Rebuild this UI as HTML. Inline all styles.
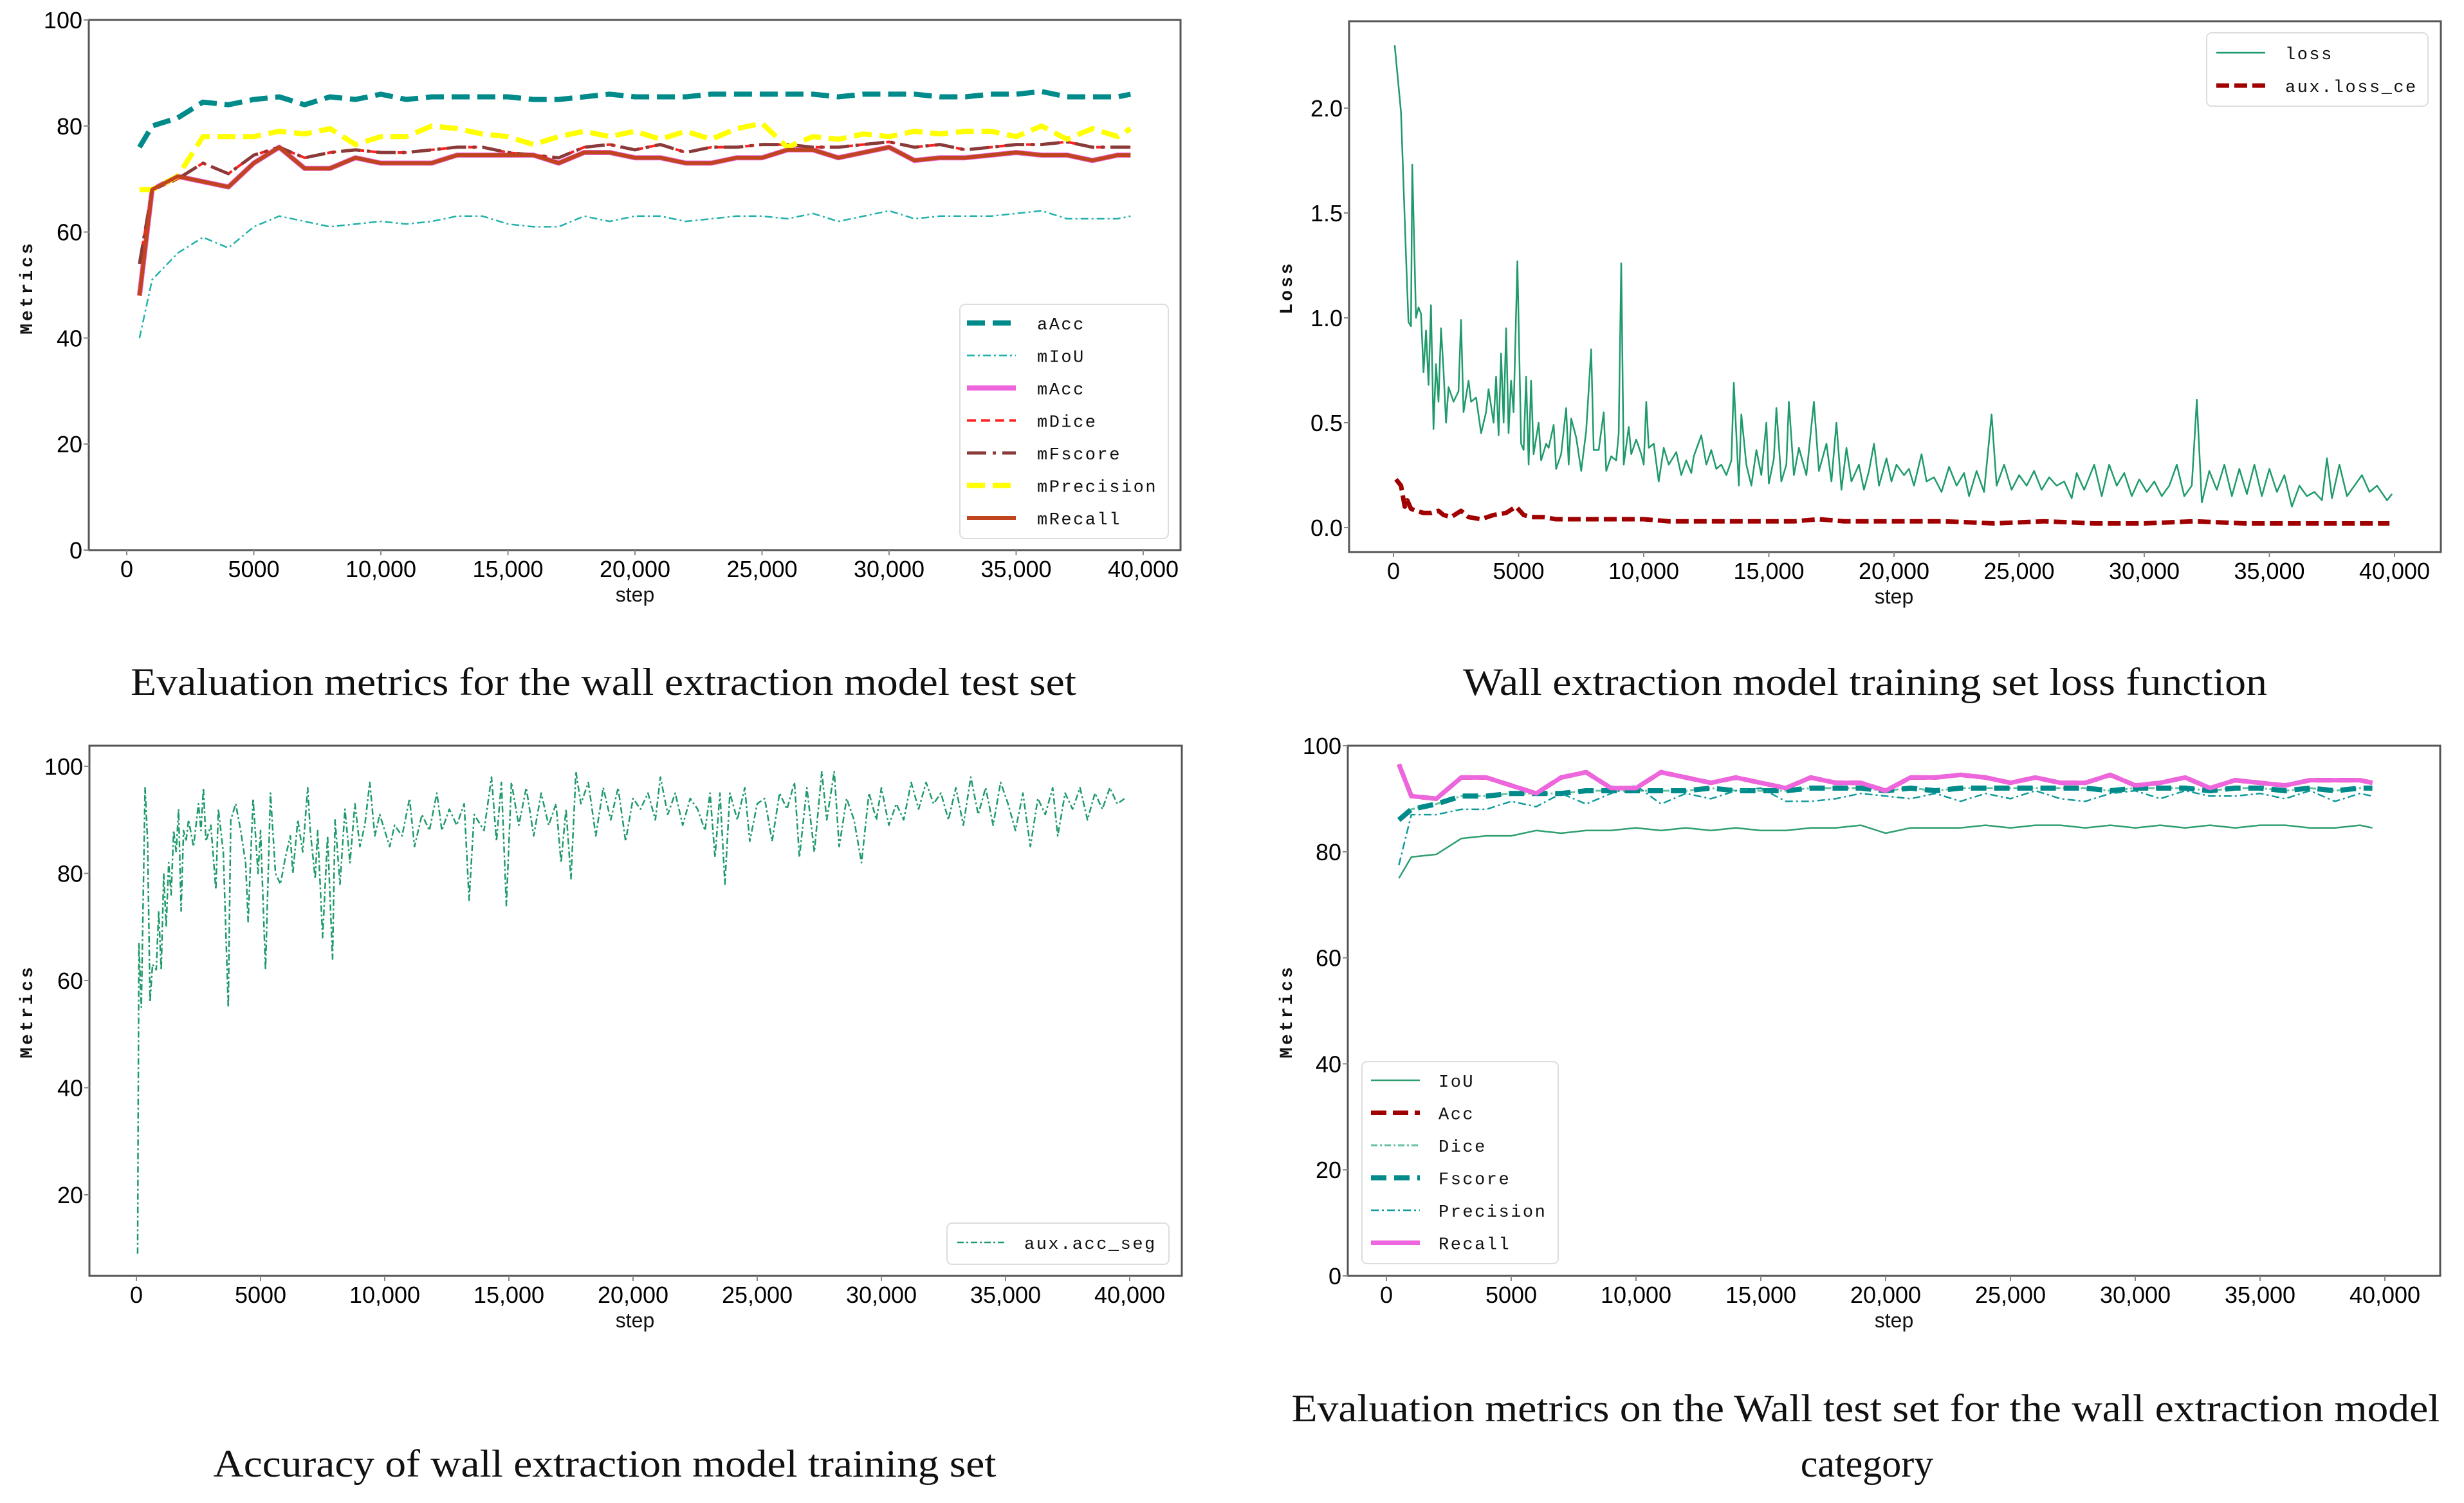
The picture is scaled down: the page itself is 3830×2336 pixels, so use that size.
<!DOCTYPE html>
<html><head><meta charset="utf-8">
<style>
html,body{margin:0;padding:0;background:#fff;}
svg{display:block;}
.tick{font-family:"Liberation Sans",sans-serif;font-size:36px;fill:#000;}
.leg{font-family:"Liberation Mono",monospace;font-size:27px;letter-spacing:2.5px;fill:#111;}
.ytitle{font-family:"Liberation Mono",monospace;font-size:28px;font-weight:bold;letter-spacing:4px;fill:#111;}
.xtitle{font-family:"Liberation Sans",sans-serif;font-size:32px;fill:#111;}
.cap{font-family:"Liberation Serif",serif;font-size:60px;fill:#111;}
</style></head>
<body>
<svg id="root" width="3830" height="2336" viewBox="0 0 3830 2336" xmlns="http://www.w3.org/2000/svg">
<rect width="3830" height="2336" fill="#fff"/>
<text class="cap" x="938" y="1080" text-anchor="middle" textLength="1470" lengthAdjust="spacingAndGlyphs">Evaluation metrics for the wall extraction model test set</text>
<text class="cap" x="2899" y="1080" text-anchor="middle" textLength="1250" lengthAdjust="spacingAndGlyphs">Wall extraction model training set loss function</text>
<text class="cap" x="940" y="2295" text-anchor="middle" textLength="1217" lengthAdjust="spacingAndGlyphs">Accuracy of wall extraction model training set</text>
<text class="cap" x="2900" y="2209" text-anchor="middle" textLength="1785" lengthAdjust="spacingAndGlyphs">Evaluation metrics on the Wall test set for the wall extraction model</text>
<text class="cap" x="2902" y="2295" text-anchor="middle">category</text>
</svg>
<script>
// ---------- Chart 1 data ----------
const c1Steps=[500,1000,2000,3000,4000,5000,6000,7000,8000,9000,10000,11000,12000,13000,14000,15000,16000,17000,18000,19000,20000,21000,22000,23000,24000,25000,26000,27000,28000,29000,30000,31000,32000,33000,34000,35000,36000,37000,38000,39000,39500];
const c1aAcc=[76,80,81.5,84.5,84,85,85.5,84,85.5,85,86,85,85.5,85.5,85.5,85.5,85,85,85.5,86,85.5,85.5,85.5,86,86,86,86,86,85.5,86,86,86,85.5,85.5,86,86,86.5,85.5,85.5,85.5,86];
const c1mIoU=[40,51,56,59,57,61,63,62,61,61.5,62,61.5,62,63,63,61.5,61,61,63,62,63,63,62,62.5,63,63,62.5,63.5,62,63,64,62.5,63,63,63,63.5,64,62.5,62.5,62.5,63];
const c1mRecall=[48,68,70.5,69.5,68.5,73,76,72,72,74,73,73,73,74.5,74.5,74.5,74.5,73,75,75,74,74,73,73,74,74,75.5,75.5,74,75,76,73.5,74,74,74.5,75,74.5,74.5,73.5,74.5,74.5];
const c1mFscore=[54,68,70,73,71,74.5,76,74,75,75.5,75,75,75.5,76,76,75,74.5,74,76,76.5,75.5,76.5,75,76,76,76.5,76.5,76,76,76.5,77,76,76.5,75.5,76,76.5,76.5,77,76,76,76];
const c1mPrecision=[68,68,70.5,78,78,78,79,78.5,79.5,76.5,78,78,80,79.5,78.5,78,76.5,78,79,78,79,77.5,79,77.5,79.5,80.5,76,78,77.5,78.5,78,79,78.5,79,79,78,80,77.5,79.5,78,79.5];
// ---------- Chart 2 data ----------
const lossSteps=[50,300,500,600,700,750,900,1000,1100,1200,1300,1400,1500,1600,1700,1800,1900,2000,2100,2200,2400,2600,2700,2800,3000,3100,3300,3500,3700,3800,4000,4100,4200,4300,4400,4500,4600,4700,4800,4950,5100,5200,5300,5400,5500,5600,5800,5900,6100,6200,6400,6500,6700,6900,7000,7100,7300,7500,7700,7900,8000,8200,8400,8500,8700,8900,9000,9100,9200,9400,9500,9700,9900,10000,10100,10200,10400,10600,10800,11000,11300,11500,11700,11900,12000,12300,12500,12700,12900,13100,13300,13500,13600,13800,13900,14100,14300,14500,14700,14900,15000,15200,15300,15500,15700,15800,16000,16200,16500,16800,17000,17300,17500,17700,17900,18100,18300,18600,18800,19000,19200,19400,19700,19900,20100,20400,20600,20800,21100,21300,21600,21900,22200,22500,22800,23000,23300,23600,23900,24100,24400,24700,25000,25300,25600,25900,26200,26500,26800,27100,27300,27600,28000,28300,28600,28900,29200,29500,29800,30100,30400,30700,31000,31300,31600,31900,32100,32300,32600,32900,33200,33500,33800,34100,34400,34700,35000,35300,35600,35900,36200,36500,36800,37100,37300,37500,37800,38100,38400,38700,39000,39300,39700,39900];
const lossVals=[2.3,1.98,1.3,0.98,0.96,1.73,1.0,1.05,1.02,0.74,0.94,0.68,1.06,0.47,0.78,0.6,0.95,0.75,0.5,0.67,0.6,0.65,0.99,0.55,0.7,0.6,0.62,0.45,0.55,0.66,0.5,0.72,0.44,0.83,0.5,0.95,0.45,0.7,0.55,1.27,0.4,0.37,0.72,0.3,0.7,0.35,0.5,0.32,0.4,0.38,0.49,0.28,0.35,0.57,0.3,0.52,0.43,0.27,0.46,0.85,0.37,0.37,0.55,0.27,0.34,0.32,0.45,1.26,0.3,0.48,0.35,0.42,0.35,0.3,0.6,0.38,0.4,0.22,0.38,0.3,0.36,0.25,0.32,0.26,0.34,0.44,0.3,0.37,0.28,0.3,0.25,0.32,0.69,0.2,0.54,0.3,0.2,0.37,0.25,0.5,0.21,0.33,0.57,0.22,0.3,0.6,0.25,0.38,0.25,0.6,0.27,0.4,0.22,0.5,0.18,0.38,0.22,0.3,0.18,0.27,0.4,0.2,0.33,0.22,0.3,0.25,0.28,0.2,0.35,0.22,0.24,0.17,0.29,0.2,0.26,0.15,0.27,0.17,0.54,0.2,0.3,0.18,0.25,0.2,0.27,0.18,0.24,0.2,0.22,0.14,0.26,0.18,0.3,0.15,0.3,0.2,0.26,0.15,0.23,0.17,0.22,0.15,0.2,0.3,0.15,0.2,0.61,0.12,0.27,0.18,0.3,0.15,0.28,0.16,0.3,0.15,0.28,0.17,0.25,0.1,0.2,0.15,0.17,0.13,0.33,0.14,0.3,0.15,0.2,0.25,0.17,0.2,0.13,0.16];
const auxSteps=[100,300,450,550,700,900,1200,1500,1800,2000,2300,2700,3000,3500,4000,4500,4900,5200,5500,6000,6500,7000,7500,8000,9000,10000,11000,12000,13000,14000,15000,16000,17000,18000,19000,20000,22000,24000,26000,28000,30000,32000,34000,36000,38000,39800];
const auxVals=[0.23,0.2,0.1,0.13,0.09,0.08,0.07,0.07,0.08,0.06,0.05,0.08,0.05,0.04,0.06,0.07,0.1,0.06,0.05,0.05,0.04,0.04,0.04,0.04,0.04,0.04,0.03,0.03,0.03,0.03,0.03,0.03,0.04,0.03,0.03,0.03,0.03,0.02,0.03,0.02,0.02,0.03,0.02,0.02,0.02,0.02];
// ---------- Chart 3 data ----------
const accSteps=[50,100,200,350,450,550,650,800,900,1000,1100,1200,1300,1400,1500,1600,1700,1800,1900,2000,2100,2300,2500,2600,2700,2800,3000,3200,3300,3500,3700,3800,4000,4200,4400,4500,4700,4900,5000,5200,5400,5600,5800,6000,6200,6300,6500,6700,6900,7000,7200,7300,7500,7700,7900,8000,8200,8400,8600,8800,9000,9200,9400,9600,9800,10000,10200,10400,10700,11000,11200,11500,11800,12100,12300,12600,12900,13200,13400,13600,14000,14300,14500,14700,14900,15100,15400,15700,16000,16300,16600,16900,17100,17300,17500,17700,17900,18200,18500,18800,19100,19400,19700,20000,20300,20600,20900,21100,21400,21700,22000,22300,22600,22900,23100,23300,23500,23700,23900,24200,24500,24700,25000,25300,25600,25900,26200,26500,26700,27000,27300,27600,27800,28100,28300,28600,28900,29200,29500,29800,30000,30300,30600,30900,31200,31500,31800,32100,32400,32700,33000,33300,33600,33900,34200,34500,34800,35100,35400,35700,36000,36300,36600,36900,37100,37400,37700,38000,38300,38600,38900,39200,39500,39800];
const accVals=[9,67,55,96,86,56,63,62,73,62,80,70,82,76,88,84,92,73,88,86,90,85,93,88,96,86,89,77,92,84,55,90,93,88,82,71,94,80,88,62,95,80,78,83,87,80,90,84,96,88,79,88,68,87,64,90,78,92,82,93,85,89,97,87,91,88,85,89,87,94,85,91,88,95,88,92,89,93,75,91,88,98,86,97,74,97,89,96,87,95,89,93,82,92,79,99,93,97,87,96,90,96,86,94,92,95,90,98,91,95,89,94,92,88,95,83,95,78,95,90,96,86,93,94,86,95,92,97,83,96,84,99,90,99,85,94,90,82,95,90,96,89,93,90,97,92,97,93,95,90,96,89,98,91,96,89,97,93,88,95,85,94,91,96,87,95,92,96,90,95,92,96,93,94];
// ---------- Chart 4 data ----------
const c4Steps=[500,1000,2000,3000,4000,5000,6000,7000,8000,9000,10000,11000,12000,13000,14000,15000,16000,17000,18000,19000,20000,21000,22000,23000,24000,25000,26000,27000,28000,29000,30000,31000,32000,33000,34000,35000,36000,37000,38000,39000,39500];
const c4Recall=[96.5,90.5,90,94,94,92.5,91,94,95,92,92,95,94,93,94,93,92,94,93,93,91.5,94,94,94.5,94,93,94,93,93,94.5,92.5,93,94,92,93.5,93,92.5,93.5,93.5,93.5,93];
const c4Acc=[96.5,90.5,90,94,94,92.5,91,94,95,92,92,95,94,93,94,93,92,94,93,93,91.5,94,94,94.5,94,93,94,93,93,94.5,92.5,93,94,92,93.5,93,92.5,93.5,93.5,93.5,93];
const c4Fscore=[86,88,89,90.5,90.5,91,91,91,91.5,91.5,91.5,91.5,91.5,92,91.5,91.5,91.5,92,92,92,91.5,92,91.5,92,92,92,92,92,92,91.5,92,92,92,91.5,92,92,91.5,92,91.5,92,92];
const c4Dice=[86,88,89,90.5,90.5,91,91,91,91.5,91.5,91.5,91.5,91.5,92,91.5,91.5,91.5,92,92,92,91.5,92,91.5,92,92,92,92,92,92,91.5,92,92,92,91.5,92,92,91.5,92,91.5,92,92];
const c4Precision=[77.5,87,87,88,88,89.5,88.5,91,89,91,92.5,89,91,90,91.5,92,89.5,89.5,90,91,90.5,90,91,89.5,91,90,91.5,90,89.5,91,91.5,90,91.5,90.5,90.5,91,90,91.5,89.5,91,90.5];
const c4IoU=[75,79,79.5,82.5,83,83,84,83.5,84,84,84.5,84,84.5,84,84.5,84,84,84.5,84.5,85,83.5,84.5,84.5,84.5,85,84.5,85,85,84.5,85,84.5,85,84.5,85,84.5,85,85,84.5,84.5,85,84.5];
const xTickVals=[0,5000,10000,15000,20000,25000,30000,35000,40000];
const xTickLabels=["0","5000","10,000","15,000","20,000","25,000","30,000","35,000","40,000"];
const yTicksMetrics=[0,20,40,60,80,100];
const yTicksLoss=[0,0.5,1.0,1.5,2.0];
const yTicksLossLabels=["0.0","0.5","1.0","1.5","2.0"];
const yTicksAcc=[20,40,60,80,100];

const NS="http://www.w3.org/2000/svg";
const root=document.getElementById('root');
function el(tag,attrs,parent){const e=document.createElementNS(NS,tag);for(const k in attrs)e.setAttribute(k,attrs[k]);(parent||root).appendChild(e);return e;}

function chart(cfg){
  const g=el('g',{});
  
  
  const sx=v=>cfg.x0+(v-0)*(cfg.x40-cfg.x0)/40000;
  const sy=v=>cfg.yA+(v-cfg.vA)*(cfg.yB-cfg.yA)/(cfg.vB-cfg.vA);
  cfg.series.forEach(s=>{
    let d='';
    s.xs.forEach((x,i)=>{d+=(i?'L':'M')+sx(x).toFixed(1)+','+sy(s.ys[i]).toFixed(1);});
    const p=el('path',{d:d,fill:'none',stroke:s.color,'stroke-width':s.w,'stroke-dasharray':s.dash||'none','stroke-linejoin':'round'},g);
    
    
  });
  const fr=el('rect',{x:cfg.L,y:cfg.T,width:cfg.R-cfg.L,height:cfg.B-cfg.T,fill:'none',stroke:'#555','stroke-width':3},g);
  
  
  xTickVals.forEach((v,i)=>{
    const x=sx(v);
    el('line',{x1:x,x2:x,y1:cfg.B,y2:cfg.B+8,stroke:'#888','stroke-width':2},g);
    const t=el('text',{x:x,y:cfg.B+42,'text-anchor':'middle',class:'tick'},g);
    t.textContent=xTickLabels[i];
    
    
  });
  cfg.yTicks.forEach((v,i)=>{
    const y=sy(v);
    el('line',{x1:cfg.L-8,x2:cfg.L,y1:y,y2:y,stroke:'#888','stroke-width':2},g);
    const t=el('text',{x:cfg.L-10,y:y+13,'text-anchor':'end',class:'tick'},g);
    t.textContent=cfg.yLabels?cfg.yLabels[i]:String(v);
    
    
  });
  const xt=el('text',{x:cfg.xtX,y:cfg.B+80,'text-anchor':'middle',class:'xtitle'},g);
  xt.textContent='step';
  
  
  const yt=el('text',{x:0,y:0,'text-anchor':'middle',class:'ytitle',transform:`translate(${cfg.ytX},${cfg.ytY}) rotate(-90)`},g);
  yt.textContent=cfg.ytitle;
  
  
  const lg=el('g',{},g);
  
  
  const L=cfg.leg;
  el('rect',{x:L.x,y:L.y,width:L.w,height:L.h,rx:8,fill:'#fff','fill-opacity':0.85,stroke:'#ddd','stroke-width':2},lg);
  cfg.series.filter(s=>s.label).forEach((s,i)=>{
    const y=L.fy+i*L.dy;
    const ln=el('line',{x1:L.lx,x2:L.lx+76,y1:y,y2:y,stroke:s.color,'stroke-width':s.w,'stroke-dasharray':s.dash||'none'},lg);
    
    
    const t=el('text',{x:L.tx,y:y+10,class:'leg'},lg);
    t.textContent=s.label;
    
    
  });
}

chart({name:'test-metrics-chart',L:138,R:1835,T:31,B:855,x0:197,x40:1777,vA:0,yA:855,vB:100,yB:31,
  yTicks:yTicksMetrics,xtX:987,ytX:50,ytY:447,ytitle:'Metrics',
  leg:{x:1492,y:473,w:324,h:364,fy:502,dy:50.5,lx:1503,tx:1612},
  series:[
    {id:'aAcc',label:'aAcc',xs:c1Steps,ys:c1aAcc,color:'#008b8b',w:8,dash:'28,12'},
    {id:'mIoU',label:'mIoU',xs:c1Steps,ys:c1mIoU,color:'#20b2aa',w:2.5,dash:'12,5,3,5'},
    {id:'mAcc',label:'mAcc',xs:c1Steps,ys:c1mRecall,color:'#ee66dd',w:8},
    {id:'mDice',label:'mDice',xs:c1Steps,ys:c1mFscore,color:'#ff2020',w:4,dash:'14,8'},
    {id:'mFscore',label:'mFscore',xs:c1Steps,ys:c1mFscore,color:'#8b3a3a',w:5,dash:'30,10,5,10'},
    {id:'mPrecision',label:'mPrecision',xs:c1Steps,ys:c1mPrecision,color:'#ffff00',w:8,dash:'28,12'},
    {id:'mRecall',label:'mRecall',xs:c1Steps,ys:c1mRecall,color:'#c0441e',w:6}
  ]});

chart({name:'training-loss-chart',L:2097,R:3794,T:33,B:858,x0:2166,x40:3722,vA:0,yA:820,vB:2,yB:168,
  yTicks:yTicksLoss,yLabels:yTicksLossLabels,xtX:2944,ytX:2008,ytY:447,ytitle:'Loss',
  leg:{x:3430,y:51,w:344,h:114,fy:82,dy:51,lx:3445,tx:3552},
  series:[
    {id:'loss',label:'loss',xs:lossSteps,ys:lossVals,color:'#1f9a6a',w:2.5},
    {id:'aux-loss-ce',label:'aux.loss_ce',xs:auxSteps,ys:auxVals,color:'#a00000',w:7,dash:'20,8'}
  ]});

chart({name:'training-accuracy-chart',L:139,R:1837,T:1159,B:1983,x0:212,x40:1756,vA:20,yA:1857,vB:100,yB:1191,
  yTicks:yTicksAcc,xtX:987,ytX:50,ytY:1572,ytitle:'Metrics',
  leg:{x:1472,y:1901,w:345,h:64,fy:1931,dy:50,lx:1488,tx:1592},
  series:[
    {id:'aux-acc-seg',label:'aux.acc_seg',xs:accSteps,ys:accVals,color:'#1f9a6a',w:2.5,dash:'10,4,3,4'}
  ]});

chart({name:'wall-metrics-chart',L:2095,R:3793,T:1159,B:1983,x0:2155,x40:3707,vA:0,yA:1983,vB:100,yB:1159,
  yTicks:yTicksMetrics,xtX:2944,ytX:2008,ytY:1572,ytitle:'Metrics',
  leg:{x:2117,y:1650,w:305,h:314,fy:1679,dy:50.5,lx:2131,tx:2236},
  series:[
    {id:'IoU',label:'IoU',xs:c4Steps,ys:c4IoU,color:'#2e9e70',w:2.5},
    {id:'Acc',label:'Acc',xs:c4Steps,ys:c4Acc,color:'#a00000',w:7,dash:'24,10'},
    {id:'Dice',label:'Dice',xs:c4Steps,ys:c4Dice,color:'#66c2a0',w:3,dash:'10,4,3,4'},
    {id:'Fscore',label:'Fscore',xs:c4Steps,ys:c4Fscore,color:'#008b8b',w:8,dash:'24,12'},
    {id:'Precision',label:'Precision',xs:c4Steps,ys:c4Precision,color:'#109a9a',w:2.5,dash:'12,5,3,5'},
    {id:'Recall',label:'Recall',xs:c4Steps,ys:c4Recall,color:'#ee66dd',w:7}
  ]});
</script>
</body></html>
